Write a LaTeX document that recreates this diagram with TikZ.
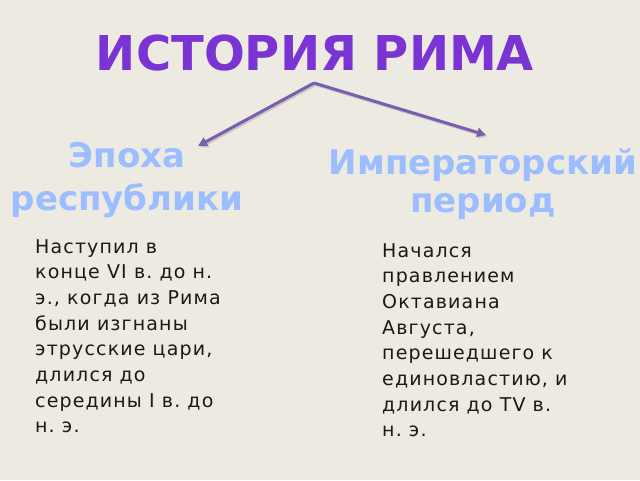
\documentclass[tikz,border=0pt]{standalone}
\usepackage{fontspec}
\setmainfont{DejaVu Sans}
\newfontfamily\bodyfont[LetterSpace=6]{DejaVu Sans}
\usetikzlibrary{arrows.meta}

\definecolor{bgpaper}{HTML}{EDEBE1}
\definecolor{titlepurple}{HTML}{7B34D4}
\definecolor{headblue}{HTML}{9CBDFF}
\definecolor{arrowpurple}{HTML}{7B5CAE}

\tikzset{
  heading/.style={text=headblue, font=\bfseries, inner sep=0pt, align=center},
  bodytext/.style={text=black!90, inner sep=0pt, align=left, anchor=north west,
                   font=\bodyfont\fontsize{19}{25.7}\selectfont\frenchspacing},
  branch/.style={line width=3pt, arrowpurple, -{Triangle[length=9pt,width=9pt]}},
  branchshadow/.style={line width=3pt, black!30, opacity=0.6, -{Triangle[length=9pt,width=9pt]}}
}

\begin{document}
\begin{tikzpicture}[x=1pt, y=-1pt]
        \fill[bgpaper] (0,0) rectangle (640,480);
        \useasboundingbox (0,0) rectangle (640,480);

        % Title:
        \node (title) [anchor=base, text=titlepurple, inner sep=0pt,
              font=\fontsize{48}{56}\bfseries\selectfont] at (315,70) {ИСТОРИЯ РИМА};

        % Arrows:
        \coordinate (apex) at (314,83);
        \coordinate (lefttip) at (198,146);
        \coordinate (righttip) at (486,135);
        \draw [branchshadow] ([shift={(1.5,1.5)}]apex) -- ([shift={(1.5,1.5)}]lefttip);
        \draw [branchshadow] ([shift={(1.5,1.5)}]apex) -- ([shift={(1.5,1.5)}]righttip);
        \draw [branch] (apex) -- (lefttip);
        \draw [branch] (apex) -- (righttip);

        % Headings:
        \node (republic) [heading, anchor=north, font=\fontsize{34}{43}\bfseries\selectfont]
              at (127,142) {Эпоха\\республики};
        \node (empire) [heading, anchor=north, font=\fontsize{34}{38}\bfseries\selectfont]
              at (483,148) {Императорский\\период};

        % Texts:
        \node (republictext) [bodytext] at (35,239)
              {Наступил в\\конце VI в. до н.\\э., когда из Рима\\были изгнаны\\этрусские цари,\\длился до\\середины I в. до\\н. э.};
        \node (empiretext) [bodytext] at (382,243)
              {Начался\\правлением\\Октавиана\\Августа,\\перешедшего к\\единовластию, и\\длился до TV в.\\н. э.};

    \end{tikzpicture}
\end{document}
